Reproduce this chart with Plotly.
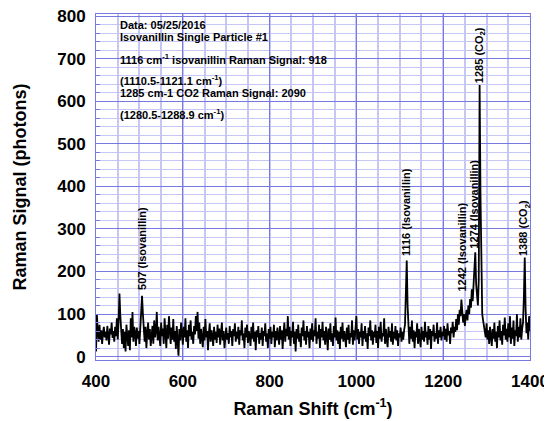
import plotly.graph_objects as go

# Raman shift sampling: 400..1400 cm-1, every 2 cm-1
x_start = 400
x_step = 2

signal = [
    # 400-498
    12, 98, 60, 35, 75, 40, 62, 30, 55, 70,
    45, 58, 38, 72, 50, 28, 66, 52, 80, 44,
    60, 35, 70, 48, 90, 40, 85, 148, 95, 50,
    30, 65, 20, 58, 12, 75, 40, 25, 62, 15,
    90, 45, 105, 35, 70, 55, 25, 68, 42, 60,
    # 500-598
    30, 75, 95, 143, 100, 60, 35, 70, 20, 55,
    80, 40, 65, 25, 50, 72, 30, 85, 45, 60,
    105, 38, 70, 52, 25, 80, 48, 66, 30, 90,
    55, 20, 75, 42, 95, 50, 30, 68, 40, 88,
    35, 60, 18, 72, 45, 2, 65, 38, 80, 50,
    # 600-698
    28, 70, 45, 90, 35, 62, 20, 75, 48, 85,
    40, 58, 30, 72, 52, 95, 60, 105, 42, 80,
    30, 65, 50, 22, 70, 38, 88, 45, 60, 15,
    55, 78, 35, 62, 48, 25, 70, 40, 58, 32,
    75, 45, 66, 28, 55, 80, 38, 60, 20, 52,
    # 700-798
    68, 40, 55, 30, 72, 45, 60, 25, 65, 48,
    78, 35, 58, 42, 70, 28, 62, 50, 85, 38,
    55, 20, 68, 45, 75, 32, 60, 48, 25, 70,
    42, 80, 35, 58, 15, 62, 45, 72, 30, 55,
    40, 68, 25, 60, 48, 78, 35, 55, 20, 65,
    # 800-898
    42, 70, 30, 58, 45, 75, 22, 60, 38, 68,
    50, 28, 72, 40, 62, 18, 55, 80, 35, 65,
    48, 95, 40, 70, 25, 60, 45, 82, 30, 58,
    12, 65, 42, 75, 35, 55, 22, 68, 48, 85,
    38, 60, 28, 72, 45, 58, 20, 66, 40, 78,
    # 900-998
    35, 62, 48, 90, 30, 58, 42, 75, 20, 65,
    45, 82, 38, 60, 28, 70, 50, 15, 66, 40,
    78, 35, 55, 25, 72, 45, 92, 38, 62, 30,
    58, 18, 70, 42, 80, 35, 60, 48, 22, 68,
    40, 75, 30, 55, 45, 85, 28, 62, 38, 70,
    # 1000-1098
    95, 40, 65, 30, 58, 45, 78, 25, 60, 42,
    72, 35, 55, 18, 68, 48, 85, 38, 62, 28,
    58, 45, 75, 32, 60, 20, 70, 42, 82, 35,
    55, 48, 90, 30, 65, 40, 22, 70, 45, 60,
    35, 78, 28, 58, 42, 72, 38, 62, 25, 55,
    # 1100-1198
    45, 68, 35, 58, 40, 62, 75, 150, 226, 120,
    60, 30, 70, 42, 85, 35, 62, 20, 58, 45,
    78, 30, 65, 48, 22, 70, 40, 60, 35, 82,
    45, 58, 28, 72, 40, 65, 18, 60, 48, 75,
    35, 55, 42, 80, 30, 62, 45, 70, 38, 58,
    # 1200-1298
    48, 72, 40, 65, 35, 78, 50, 60, 30, 68,
    55, 82, 45, 70, 58, 88, 62, 100, 75, 110,
    95, 134, 105, 80, 100, 72, 95, 110, 85, 120,
    100, 135, 115, 158, 130, 175, 210, 245, 170, 140,
    120, 180, 638, 380, 140, 100, 85, 70, 60, 45,
    # 1300-1400
    78, 40, 62, 30, 70, 48, 25, 65, 42, 80,
    35, 58, 20, 72, 45, 85, 38, 60, 28, 75,
    50, 92, 40, 65, 35, 78, 45, 95, 30, 68,
    42, 85, 25, 62, 48, 100, 35, 70, 45, 90,
    40, 65, 80, 140, 233, 110, 55, 80, 40, 95, 60,
]
shift = [x_start + x_step * i for i in range(len(signal))]

x_ticks = [400, 600, 800, 1000, 1200, 1400]
y_ticks = [0, 100, 200, 300, 400, 500, 600, 700, 800]

info_lines = [
    "Data: 05/25/2016",
    "Isovanillin Single Particle #1",
    "1116 cm<sup>-1</sup> isovanillin Raman Signal: 918",
    "(1110.5-1121.1 cm<sup>-1</sup>)",
    "1285 cm-1 CO2 Raman Signal: 2090",
    "(1280.5-1288.9 cm<sup>-1</sup>)",
]
info_y = [779, 751, 699, 650, 619, 570]

peak_labels = ["507 (Isovanillin)", "1116 (Isovanillin)", "1242 (Isovanillin)",
               "1274 (Isovanillin)", "1285 (CO<sub>2</sub>)", "1388 (CO<sub>2</sub>)"]
peak_x = [507, 1116, 1243, 1271, 1285, 1388]
peak_label_y = [152, 231, 149, 250, 638, 231]

FONT = "Liberation Sans, Arial, Helvetica, sans-serif"
MAJOR = "rgb(120,120,225)"
MINOR = "rgb(198,198,244)"

fig = go.Figure()
fig.add_trace(go.Scatter(x=shift, y=signal, mode="lines",
                         line=dict(color="black", width=1.8),
                         showlegend=False, hoverinfo="skip"))

annotations = []
for txt, yy in zip(info_lines, info_y):
    annotations.append(dict(x=450, y=yy, xref="x", yref="y", text="<b>%s</b>" % txt,
                            showarrow=False, xanchor="left", yanchor="middle",
                            font=dict(family=FONT, size=11, color="black")))
for txt, xx, yy in zip(peak_labels, peak_x, peak_label_y):
    annotations.append(dict(x=xx, y=yy, xref="x", yref="y", text="<b>%s</b>" % txt,
                            showarrow=False, textangle=-90, xanchor="center",
                            yanchor="bottom",
                            font=dict(family=FONT, size=11, color="black")))

# the page body adds an 8px offset, so the figure is 8px smaller and shifted
fig.update_layout(
    width=544, height=413,
    margin=dict(l=88, r=22, t=6, b=61),
    paper_bgcolor="white", plot_bgcolor="white",
    font=dict(family=FONT, color="black"),
    annotations=annotations,
    xaxis=dict(
        range=[399.9, 1400.1], tickvals=x_ticks,
        ticktext=["<b>%d</b>" % v for v in x_ticks],
        tickfont=dict(size=17, family=FONT, color="black"),
        ticklabelstandoff=6, ticklabeloverflow="allow",
        title=dict(text="<b>Raman Shift (cm<sup>-1</sup>)</b>", font=dict(size=18, family=FONT),
                   standoff=11),
        automargin=False,
        showgrid=True, gridcolor=MAJOR, gridwidth=1,
        minor=dict(dtick=50, showgrid=True, gridcolor=MINOR, gridwidth=1.5),
        showline=True, linecolor=MAJOR, linewidth=1, mirror=True,
        ticks="", zeroline=False,
    ),
    yaxis=dict(
        range=[-8, 805], tickvals=y_ticks,
        ticktext=["<b>%d</b>" % v for v in y_ticks],
        tickfont=dict(size=17, family=FONT, color="black"),
        ticklabelstandoff=6, ticklabeloverflow="allow",
        title=dict(text="<b>Raman Signal (photons)</b>", font=dict(size=18, family=FONT),
                   standoff=25),
        automargin=False,
        showgrid=True, gridcolor=MAJOR, gridwidth=1,
        minor=dict(dtick=20, showgrid=True, gridcolor=MINOR, gridwidth=1,
                   ticks="inside", ticklen=4, tickcolor=MAJOR),
        ticks="inside", ticklen=6, tickcolor=MAJOR,
        showline=True, linecolor=MAJOR, linewidth=1, mirror=True,
        zeroline=False,
    ),
)

fig.write_html("out.html")
